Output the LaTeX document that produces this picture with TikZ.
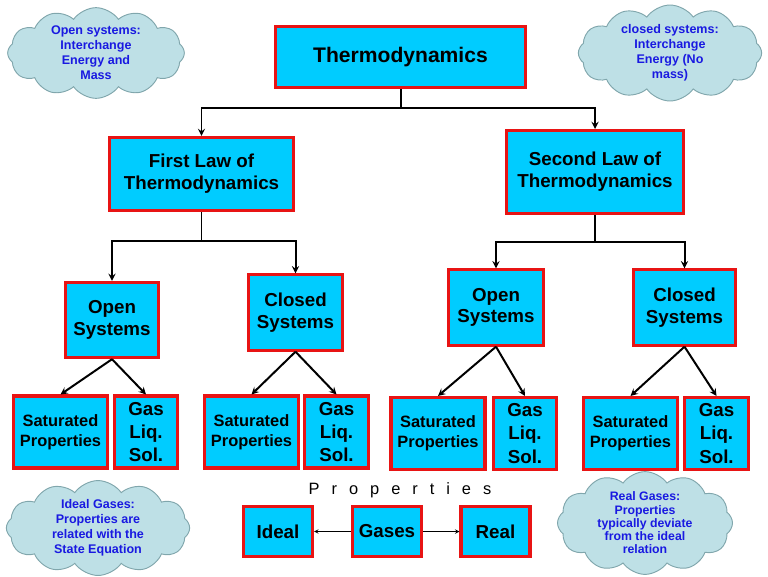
\documentclass[tikz,border=0pt]{standalone}
\usepackage{fontspec}
\setmainfont{Liberation Sans}
\newfontfamily\spacedfont[LetterSpace=73]{Liberation Sans}
\usetikzlibrary{shapes.symbols}
\definecolor{boxfill}{RGB}{0,204,255}
\definecolor{boxline}{RGB}{232,20,20}
\definecolor{cloudfill}{RGB}{190,224,230}
\definecolor{cloudline}{RGB}{128,166,172}
\definecolor{cloudtext}{RGB}{25,25,225}
\begin{document}
\begin{tikzpicture}[x=0.03cm,y=-0.03cm,
  box/.style={draw=boxline,fill=boxfill,line width=2.6pt,align=center,inner sep=0pt},
  sysbox/.style={box,minimum height=2.26cm,font=\bfseries\fontsize{16}{18.3}\selectfont},
  satbox/.style={box,minimum width=2.82cm,minimum height=2.16cm,font=\bfseries\fontsize{14}{17}\selectfont},
  gasbox/.style={box,minimum width=1.9cm,minimum height=2.16cm,font=\bfseries\fontsize{16}{19.7}\selectfont},
  gasesbox/.style={box,minimum width=2.07cm,minimum height=1.5cm,font=\bfseries\fontsize{16}{19}\selectfont},
  note/.style={shape=cloud,cloud puffs=12,cloud puff arc=110,cloud ignores aspect,draw=cloudline,fill=cloudfill,line width=0.8pt,text=cloudtext,align=center,inner sep=0pt,font=\bfseries\fontsize{10.7}{12.8}\selectfont},
  arr/.style={-stealth,line width=1.7pt},
  thinarr/.style={-stealth,line width=0.7pt}]
\useasboundingbox (0,0) rectangle (768,576);
% clouds
\node[note,minimum width=5.3cm,minimum height=2.6cm] (opennote) at (96,53) {Open systems:\\Interchange\\Energy and\\Mass};
\node[note,minimum width=5.5cm,minimum height=2.6cm] (closednote) at (670,53) {closed systems:\\Interchange\\Energy (No\\mass)};
\node[note,minimum width=5.5cm,minimum height=2.4cm] (idealnote) at (98,528) {Ideal Gases:\\Properties are\\related with the\\State Equation};
\node[note,minimum width=5.25cm,minimum height=2.6cm,font=\bfseries\fontsize{10.5}{11.3}\selectfont] (realnote) at (645,523) {Real Gases:\\Properties\\typically deviate\\from the ideal\\relation};
% top levels
\node[box,minimum width=7.5cm,minimum height=1.83cm,font=\bfseries\fontsize{18}{21}\selectfont] (thermo) at (400.5,57) {Thermodynamics};
\node[box,minimum width=5.52cm,minimum height=2.19cm,font=\bfseries\fontsize{16}{19}\selectfont] (law1) at (201.5,174) {First Law of\\Thermodynamics};
\node[box,minimum width=5.31cm,minimum height=2.49cm,font=\bfseries\fontsize{16}{19}\selectfont] (law2) at (595,172) {Second Law of\\Thermodynamics};
% systems
\node[sysbox,minimum width=2.79cm] (open1) at (112,320) {Open\\Systems};
\node[sysbox,minimum width=2.82cm] (closed1) at (295.5,312.5) {Closed\\Systems};
\node[sysbox,minimum width=2.85cm] (open2) at (496,307.5) {Open\\Systems};
\node[sysbox,minimum width=3.06cm] (closed2) at (684.5,307.5) {Closed\\Systems};
% properties
\node[satbox] (sat1) at (60.5,432) {Saturated\\Properties};
\node[gasbox] (gas1) at (146,432) {Gas\\Liq.\\Sol.};
\node[satbox] (sat2) at (251.5,432) {Saturated\\Properties};
\node[gasbox] (gas2) at (336.5,432) {Gas\\Liq.\\Sol.};
\node[satbox] (sat3) at (438,433.5) {Saturated\\Properties};
\node[gasbox] (gas3) at (525,433.5) {Gas\\Liq.\\Sol.};
\node[satbox] (sat4) at (630.5,433.5) {Saturated\\Properties};
\node[gasbox] (gas4) at (716.5,433.5) {Gas\\Liq.\\Sol.};
% gases
\node[font=\spacedfont\fontsize{14}{16}\selectfont] (props) at (400,490) {Properties};
\node[gasesbox] (ideal) at (278,531.5) {Ideal};
\node[gasesbox] (gases) at (387,531.5) {Gases};
\node[gasesbox] (real) at (495.5,531.5) {Real};
% connectors
\coordinate (t1) at (400.5,108);
\draw[arr] (thermo.south) -- (t1) -| (law1.north);
\draw[arr] (t1) -| (law2.north);
\coordinate (f1) at (201.5,241);
\draw[arr] (law1.south) -- (f1) -| (open1.north);
\draw[arr] (f1) -| (closed1.north);
\coordinate (s1) at (595,242);
\draw[arr] (law2.south) -- (s1) -| (open2.north);
\draw[arr] (s1) -| (closed2.north);
\draw[arr] (open1.south) -- (sat1.north);
\draw[arr] (open1.south) -- (gas1.north);
\draw[arr] (closed1.south) -- (sat2.north);
\draw[arr] (closed1.south) -- (gas2.north);
\draw[arr] (open2.south) -- (sat3.north);
\draw[arr] (open2.south) -- (gas3.north);
\draw[arr] (closed2.south) -- (sat4.north);
\draw[arr] (closed2.south) -- (gas4.north);
\draw[thinarr] (gases.west) -- (ideal.east);
\draw[thinarr] (gases.east) -- (real.west);
\end{tikzpicture}
\end{document}
